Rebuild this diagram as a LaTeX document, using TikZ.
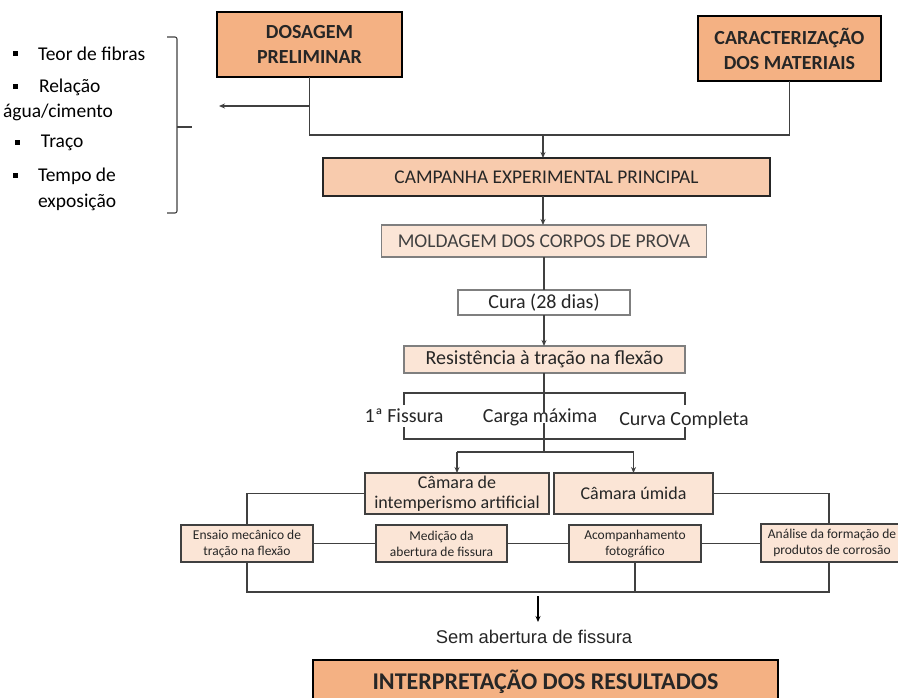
\documentclass[tikz,border=0pt]{standalone}
\usepackage{fontspec}
\setmainfont{Carlito}
\newfontfamily\arialfont{Liberation Sans}
\usetikzlibrary{arrows.meta}
\definecolor{orangebox}{HTML}{F4B183}
\definecolor{peachbox}{HTML}{F8CBAD}
\definecolor{palebox}{HTML}{FBE5D6}
\definecolor{linegray}{HTML}{404040}
\definecolor{edgegray}{HTML}{7F7F7F}
\definecolor{inkgray}{HTML}{262626}

\begin{document}
\begin{tikzpicture}[x=1pt,y=-1pt,
  every node/.style={inner sep=0pt, outer sep=0pt, text=inkgray},
  conn/.style={draw=linegray, line width=1.3pt},
  arr/.style={-{Stealth[length=6pt,width=5pt]}},
  mainbox/.style={draw=black, line width=2.6pt, fill=orangebox, align=center,
    font=\bfseries\fontsize{20}{25}\selectfont},
  phasebox/.style={draw=inkgray, line width=2pt, fill=peachbox,
    font=\fontsize{19.4}{22}\selectfont},
  stagebox/.style={draw=edgegray, line width=1.3pt, fill=palebox,
    font=\fontsize{19.5}{22}\selectfont},
  chamberbox/.style={draw=linegray, line width=1.3pt, fill=palebox, align=center,
    font=\fontsize{18}{20}\selectfont},
  testbox/.style={draw=linegray, line width=1.3pt, fill=palebox, align=center,
    font=\fontsize{13.5}{16}\selectfont},
  listtext/.style={anchor=west, font=\fontsize{19.5}{22}\selectfont, text=black},
  bulletmark/.style={fill=black, minimum size=5pt},
  optiontext/.style={font=\fontsize{20}{22}\selectfont},
]
\useasboundingbox (0,0) rectangle (898,698);
\clip (0,0) rectangle (898,698);

% ---- parameters of the preliminary mix design ----
\node[bulletmark] (m1) at (15,54) {};
\node[listtext] (l1) at (38,54) {Teor de fibras};
\node[bulletmark] (m2) at (15,87) {};
\node[listtext] (l2) at (39,87) {Relação};
\node[listtext] (l3) at (3,112) {água/cimento};
\node[bulletmark] (m3) at (17,143) {};
\node[listtext] (l4) at (41,143) {Traço};
\node[bulletmark] (m4) at (15,176) {};
\node[listtext] (l5) at (38,176) {Tempo de};
\node[listtext] (l6) at (38,202) {exposição};

% closing brace of the list
\coordinate (bracetop) at (167,37);
\coordinate (bracebot) at (167,213);
\coordinate (bracemid) at (177,127);
\coordinate (bracetip) at (192,127);
\draw[conn, line width=1.1pt, rounded corners=2pt]
  (bracetop) -- (177,37) -- (177,213) -- (bracebot);
\draw[conn, line width=1.1pt] (bracemid) -- (bracetip);

% ---- top boxes ----
\node[mainbox, minimum width=185pt, minimum height=65pt] (dos) at (309.5,44.5)
  {DOSAGEM\\PRELIMINAR};
\node[mainbox, minimum width=183pt, minimum height=65pt] (car) at (789.5,48.5)
  {CARACTERIZAÇÃO\\DOS MATERIAIS};

\coordinate (join) at (543,135);
\coordinate (leftend) at (219,106);
\draw[conn] (dos.south) -- (dos.south |- join) -- (car.south |- join) -- (car.south);
\draw[conn, arr] (dos.south |- leftend) -- (leftend);

% ---- main experimental sequence ----
\node[phasebox, minimum width=447pt, minimum height=38pt] (camp) at (546.5,177)
  {CAMPANHA EXPERIMENTAL PRINCIPAL};
\draw[conn, arr] (join) -- (join |- camp.north);

\node[stagebox, minimum width=325pt, minimum height=32pt, text=linegray] (mold) at (544,241)
  {MOLDAGEM DOS CORPOS DE PROVA};
\draw[conn, arr] (camp.south -| join) -- (mold.north -| join);

\node[stagebox, fill=white, minimum width=172pt, minimum height=25pt,
  font=\fontsize{20}{22}\selectfont] (cura) at (544,302.5) {Cura (28 dias)};
\draw[conn] (mold.south) -- (cura.north);

\node[stagebox, minimum width=281pt, minimum height=27pt,
  font=\fontsize{20}{22}\selectfont] (res) at (544.5,359.5)
  {Resistência à tração na flexão};
\draw[conn, arr] (cura.south) -- (cura.south |- res.north);

% ---- flexural test results ----
\node[optiontext] (f1) at (404,416) {1ª Fissura};
\node[optiontext] (f2) at (540,417) {Carga máxima};
\node[optiontext] (f3) at (684,420) {Curva Completa};

\coordinate (midtop) at (544,413);
\coordinate (midlow) at (544,423);
\coordinate (split) at (544,452);
\draw[conn] (res.south -| midtop) -- (midtop);
\draw[conn] (404,405) -- (404,393) -- (685,393) -- (685,405);
\draw[conn] (404,427) -- (404,439) -- (685,439) -- (685,427);
\draw[conn] (midlow) -- (split);

% ---- ageing chambers ----
\node[chamberbox, minimum width=184pt, minimum height=41pt] (ci) at (457,493.5)
  {Câmara de\\intemperismo artificial};
\node[chamberbox, minimum width=159pt, minimum height=41pt] (cu) at (633.5,493.5)
  {Câmara úmida};
\draw[conn] (ci.north |- split) -- (cu.north |- split);
\draw[conn, arr] (ci.north |- split) -- (ci.north);
\draw[conn, arr] (cu.north |- split) -- (cu.north);

% ---- tests and observations ----
\node[testbox, minimum width=132pt, minimum height=37pt] (ens) at (247,543.5)
  {Ensaio mecânico de\\tração na flexão};
\node[testbox, minimum width=131pt, minimum height=37pt] (med) at (441.5,543.5)
  {Medição da\\abertura de fissura};
\node[testbox, minimum width=132pt, minimum height=37pt] (aco) at (635,543.5)
  {Acompanhamento\\fotográfico};
\node[testbox, minimum width=142pt, minimum height=38pt] (ana) at (832,543)
  {Análise da formação de\\produtos de corrosão};

\coordinate (anatop) at (829,524);
\coordinate (anabot) at (829,562);
\coordinate (bottomline) at (248,592);
\draw[conn] (ci.west) -- (ci.west -| ens.north) -- (ens.north);
\draw[conn] (cu.east) -- (cu.east -| anatop) -- (anatop);
\draw[conn] (ens.east) -- (med.west);
\draw[conn] (med.east) -- (aco.west);
\draw[conn] (aco.east) -- (aco.east -| ana.west);
\draw[conn] (ens.south) -- (ens.south |- bottomline) -- (anabot |- bottomline) -- (anabot);
\draw[conn] (aco.south) -- (aco.south |- bottomline);

% ---- outcome ----
\coordinate (outstart) at (538,596);
\coordinate (outend) at (538,622);
\draw[draw=black, line width=1.3pt, arr] (outstart) -- (outend);
\node[font=\arialfont\fontsize{18.4}{20}\selectfont] (sem) at (534,637)
  {Sem abertura de fissura};

\node[mainbox, minimum width=465pt, minimum height=44pt,
  font=\bfseries\fontsize{24}{26}\selectfont] (int) at (545.5,682)
  {INTERPRETAÇÃO DOS RESULTADOS};
\end{tikzpicture}
\end{document}
